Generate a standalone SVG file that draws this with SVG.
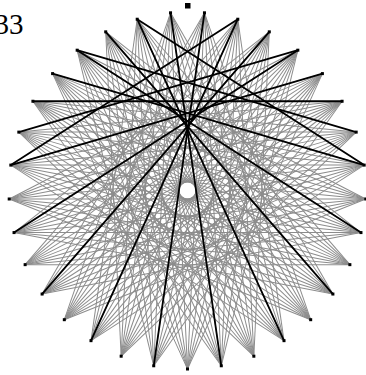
<svg xmlns="http://www.w3.org/2000/svg" xmlns:xlink="http://www.w3.org/1999/xlink" width="366" height="375" viewBox="0 0 366 375">
<style>
.g{stroke:#8c8c8c;stroke-width:1;fill:none}
.b{stroke:#000;stroke-width:1.8;fill:none;stroke-linecap:round}
.v{fill:#000}
.t{font-family:"Liberation Serif","Times New Roman",serif;font-size:29px;fill:#000}
</style>
<defs>
<g id="fan" class="g">
<line x1="187.5" y1="369" x2="52.60" y2="73.61"/>
<line x1="187.5" y1="369" x2="77.16" y2="50.19"/>
<line x1="187.5" y1="369" x2="105.71" y2="31.84"/>
<line x1="187.5" y1="369" x2="137.21" y2="19.23"/>
<line x1="187.5" y1="369" x2="170.53" y2="12.81"/>
</g>
</defs>
<rect width="366" height="375" fill="#fff"/>
<text class="t" x="-5.5" y="33.5">33</text>
<g id="connectors">
<g id="gray-chords">
<use xlink:href="#fan" transform="rotate(0 187.5 190.5)"/>
<use xlink:href="#fan" transform="rotate(10.90909 187.5 190.5)"/>
<use xlink:href="#fan" transform="rotate(21.81818 187.5 190.5)"/>
<use xlink:href="#fan" transform="rotate(32.72727 187.5 190.5)"/>
<use xlink:href="#fan" transform="rotate(43.63636 187.5 190.5)"/>
<use xlink:href="#fan" transform="rotate(54.54545 187.5 190.5)"/>
<use xlink:href="#fan" transform="rotate(65.45455 187.5 190.5)"/>
<use xlink:href="#fan" transform="rotate(76.36364 187.5 190.5)"/>
<use xlink:href="#fan" transform="rotate(87.27273 187.5 190.5)"/>
<use xlink:href="#fan" transform="rotate(98.18182 187.5 190.5)"/>
<use xlink:href="#fan" transform="rotate(109.09091 187.5 190.5)"/>
<use xlink:href="#fan" transform="rotate(120 187.5 190.5)"/>
<use xlink:href="#fan" transform="rotate(130.90909 187.5 190.5)"/>
<use xlink:href="#fan" transform="rotate(141.81818 187.5 190.5)"/>
<use xlink:href="#fan" transform="rotate(152.72727 187.5 190.5)"/>
<use xlink:href="#fan" transform="rotate(163.63636 187.5 190.5)"/>
<use xlink:href="#fan" transform="rotate(174.54545 187.5 190.5)"/>
<use xlink:href="#fan" transform="rotate(185.45455 187.5 190.5)"/>
<use xlink:href="#fan" transform="rotate(196.36364 187.5 190.5)"/>
<use xlink:href="#fan" transform="rotate(207.27273 187.5 190.5)"/>
<use xlink:href="#fan" transform="rotate(218.18182 187.5 190.5)"/>
<use xlink:href="#fan" transform="rotate(229.09091 187.5 190.5)"/>
<use xlink:href="#fan" transform="rotate(240 187.5 190.5)"/>
<use xlink:href="#fan" transform="rotate(250.90909 187.5 190.5)"/>
<use xlink:href="#fan" transform="rotate(261.81818 187.5 190.5)"/>
<use xlink:href="#fan" transform="rotate(272.72727 187.5 190.5)"/>
<use xlink:href="#fan" transform="rotate(283.63636 187.5 190.5)"/>
<use xlink:href="#fan" transform="rotate(294.54545 187.5 190.5)"/>
<use xlink:href="#fan" transform="rotate(305.45455 187.5 190.5)"/>
<use xlink:href="#fan" transform="rotate(316.36364 187.5 190.5)"/>
<use xlink:href="#fan" transform="rotate(327.27273 187.5 190.5)"/>
<use xlink:href="#fan" transform="rotate(338.18182 187.5 190.5)"/>
<use xlink:href="#fan" transform="rotate(349.09091 187.5 190.5)"/>
</g>
<g id="black-chords" class="b">
<line x1="204.47" y1="12.81" x2="153.72" y2="365.77"/>
<line x1="237.79" y1="19.23" x2="90.99" y2="340.66"/>
<line x1="269.29" y1="31.84" x2="42.10" y2="294.04"/>
<line x1="297.84" y1="50.19" x2="14.03" y2="232.58"/>
<line x1="322.40" y1="73.61" x2="10.82" y2="165.10"/>
<line x1="342.09" y1="101.25" x2="32.91" y2="101.25"/>
<line x1="356.18" y1="132.12" x2="77.16" y2="50.19"/>
<line x1="364.18" y1="165.10" x2="137.21" y2="19.23"/>
<line x1="170.53" y1="12.81" x2="221.28" y2="365.77"/>
<line x1="137.21" y1="19.23" x2="284.01" y2="340.66"/>
<line x1="105.71" y1="31.84" x2="332.90" y2="294.04"/>
<line x1="77.16" y1="50.19" x2="360.97" y2="232.58"/>
<line x1="52.60" y1="73.61" x2="364.18" y2="165.10"/>
<line x1="18.82" y1="132.12" x2="297.84" y2="50.19"/>
<line x1="10.82" y1="165.10" x2="237.79" y2="19.23"/>
</g>
</g>
<g id="marker"><rect class="v" x="185" y="3" width="5.5" height="5.5"/></g>
<g id="v0"><rect class="v" x="202.97" y="11.31" width="3" height="3"/></g>
<g id="v1"><rect class="v" x="236.29" y="17.73" width="3" height="3"/></g>
<g id="v2"><rect class="v" x="267.79" y="30.34" width="3" height="3"/></g>
<g id="v3"><rect class="v" x="296.34" y="48.69" width="3" height="3"/></g>
<g id="v4"><rect class="v" x="320.90" y="72.11" width="3" height="3"/></g>
<g id="v5"><rect class="v" x="340.59" y="99.75" width="3" height="3"/></g>
<g id="v6"><rect class="v" x="354.68" y="130.62" width="3" height="3"/></g>
<g id="v7"><rect class="v" x="362.68" y="163.60" width="3" height="3"/></g>
<g id="v8"><rect class="v" x="364.30" y="197.49" width="3" height="3"/></g>
<g id="v9"><rect class="v" x="359.47" y="231.08" width="3" height="3"/></g>
<g id="v10"><rect class="v" x="348.37" y="263.15" width="3" height="3"/></g>
<g id="v11"><rect class="v" x="331.40" y="292.54" width="3" height="3"/></g>
<g id="v12"><rect class="v" x="309.18" y="318.19" width="3" height="3"/></g>
<g id="v13"><rect class="v" x="282.51" y="339.16" width="3" height="3"/></g>
<g id="v14"><rect class="v" x="252.34" y="354.71" width="3" height="3"/></g>
<g id="v15"><rect class="v" x="219.78" y="364.27" width="3" height="3"/></g>
<g id="v16"><rect class="v" x="186.0" y="367.5" width="3" height="3"/></g>
<g id="v17"><rect class="v" x="152.22" y="364.27" width="3" height="3"/></g>
<g id="v18"><rect class="v" x="119.66" y="354.71" width="3" height="3"/></g>
<g id="v19"><rect class="v" x="89.49" y="339.16" width="3" height="3"/></g>
<g id="v20"><rect class="v" x="62.82" y="318.19" width="3" height="3"/></g>
<g id="v21"><rect class="v" x="40.60" y="292.54" width="3" height="3"/></g>
<g id="v22"><rect class="v" x="23.63" y="263.15" width="3" height="3"/></g>
<g id="v23"><rect class="v" x="12.53" y="231.08" width="3" height="3"/></g>
<g id="v24"><rect class="v" x="7.70" y="197.49" width="3" height="3"/></g>
<g id="v25"><rect class="v" x="9.32" y="163.60" width="3" height="3"/></g>
<g id="v26"><rect class="v" x="17.32" y="130.62" width="3" height="3"/></g>
<g id="v27"><rect class="v" x="31.41" y="99.75" width="3" height="3"/></g>
<g id="v28"><rect class="v" x="51.10" y="72.11" width="3" height="3"/></g>
<g id="v29"><rect class="v" x="75.66" y="48.69" width="3" height="3"/></g>
<g id="v30"><rect class="v" x="104.21" y="30.34" width="3" height="3"/></g>
<g id="v31"><rect class="v" x="135.71" y="17.73" width="3" height="3"/></g>
<g id="v32"><rect class="v" x="169.03" y="11.31" width="3" height="3"/></g>
</svg>
